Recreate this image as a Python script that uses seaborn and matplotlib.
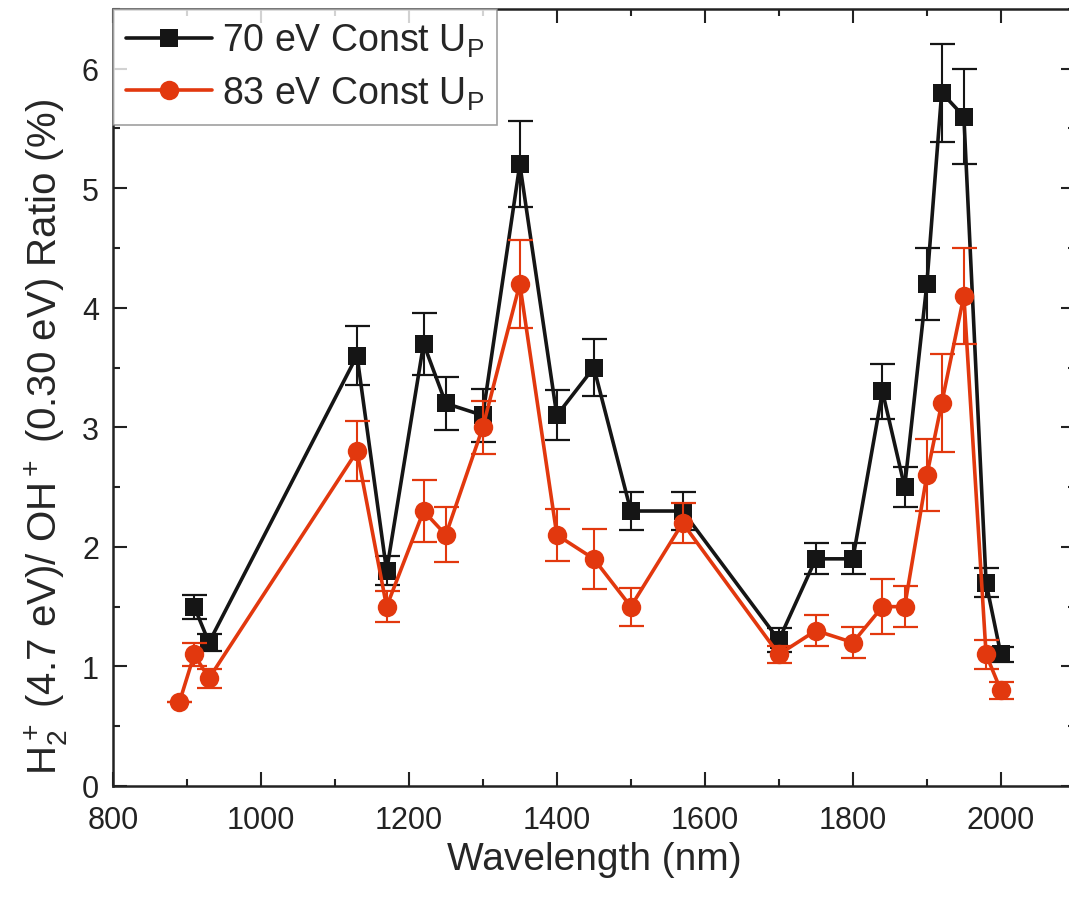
import matplotlib
matplotlib.use('Agg')
import matplotlib.pyplot as plt
from matplotlib.ticker import MultipleLocator
import pandas as pd
import seaborn as sns

# data
wl_70 = [910, 930, 1130, 1170, 1220, 1250, 1300, 1350, 1400, 1450, 1500, 1570,
         1700, 1750, 1800, 1840, 1870, 1900, 1920, 1950, 1980, 2000]
ratio_70 = [1.5, 1.2, 3.6, 1.8, 3.7, 3.2, 3.1, 5.2, 3.1, 3.5, 2.3, 2.3,
            1.22, 1.9, 1.9, 3.3, 2.5, 4.2, 5.8, 5.6, 1.7, 1.1]
err_70 = [0.1, 0.07, 0.25, 0.12, 0.26, 0.22, 0.22, 0.36, 0.21, 0.24, 0.16, 0.16,
          0.1, 0.13, 0.13, 0.23, 0.17, 0.3, 0.41, 0.4, 0.12, 0.06]

wl_83 = [890, 910, 930, 1130, 1170, 1220, 1250, 1300, 1350, 1400, 1450, 1500, 1570,
         1700, 1750, 1800, 1840, 1870, 1900, 1920, 1950, 1980, 2000]
ratio_83 = [0.7, 1.1, 0.9, 2.8, 1.5, 2.3, 2.1, 3.0, 4.2, 2.1, 1.9, 1.5, 2.2,
            1.1, 1.3, 1.2, 1.5, 1.5, 2.6, 3.2, 4.1, 1.1, 0.8]
err_83 = [0.0, 0.1, 0.08, 0.25, 0.13, 0.26, 0.23, 0.22, 0.37, 0.22, 0.25, 0.16, 0.17,
          0.07, 0.13, 0.13, 0.23, 0.17, 0.3, 0.41, 0.4, 0.12, 0.07]

df70 = pd.DataFrame({'wl': wl_70, 'ratio': ratio_70, 'err': err_70})
df83 = pd.DataFrame({'wl': wl_83, 'ratio': ratio_83, 'err': err_83})

sns.set_style('ticks')
plt.rcParams['font.family'] = ['Liberation Sans', 'DejaVu Sans']
plt.rcParams['mathtext.fontset'] = 'custom'
plt.rcParams['mathtext.rm'] = 'Liberation Sans'
plt.rcParams['mathtext.it'] = 'Liberation Sans'
plt.rcParams['mathtext.default'] = 'regular'

black = '#151515'
red = '#E2380E'

fig = plt.figure(figsize=(10.69, 9.03), dpi=100)
ax = fig.add_axes([0.1055, 0.1285, 0.9, 0.8605])

ax.errorbar(df70['wl'], df70['ratio'], yerr=df70['err'], fmt='none',
            ecolor=black, elinewidth=1.5, capsize=9, capthick=1.6, zorder=2)
sns.lineplot(data=df70, x='wl', y='ratio', ax=ax, color=black, marker='s',
             markersize=12.5, markeredgewidth=0, linewidth=2.6,
             label='70 eV Const U$_P$', zorder=3)
ax.errorbar(df83['wl'], df83['ratio'], yerr=df83['err'], fmt='none',
            ecolor=red, elinewidth=1.5, capsize=9, capthick=1.6, zorder=4)
sns.lineplot(data=df83, x='wl', y='ratio', ax=ax, color=red, marker='o',
             markersize=14, markeredgewidth=0, linewidth=2.6,
             label='83 eV Const U$_P$', zorder=5)

ax.set_xlim(800, 2100)
ax.set_ylim(0, 6.5)
ax.xaxis.set_major_locator(MultipleLocator(200))
ax.xaxis.set_minor_locator(MultipleLocator(100))
ax.yaxis.set_major_locator(MultipleLocator(1))
ax.yaxis.set_minor_locator(MultipleLocator(0.5))
ax.tick_params(which='both', direction='in', top=True, right=True,
               labelsize=22, width=1.5, colors='#222222')
ax.tick_params(which='major', length=10)
ax.tick_params(axis='x', which='major', pad=14)
ax.tick_params(axis='y', which='major', pad=10)
ax.tick_params(which='minor', length=5)
for s in ax.spines.values():
    s.set_linewidth(1.8)
    s.set_color('#222222')

ax.set_xlabel('Wavelength (nm)', fontsize=28, labelpad=4)
ax.set_ylabel('H$_2^+$ (4.7 eV)/ OH$^+$ (0.30 eV) Ratio (%)', fontsize=29)
ax.yaxis.set_label_coords(-0.044, 0.45)

leg = ax.legend(loc='upper left', fontsize=27, frameon=True, fancybox=False,
                borderaxespad=0, handlelength=2.3, handletextpad=0.25,
                labelspacing=0.4, borderpad=0.35)
leg.get_frame().set_edgecolor('#888888')
leg.get_frame().set_linewidth(1.2)

fig.savefig('out.png', dpi=100)
